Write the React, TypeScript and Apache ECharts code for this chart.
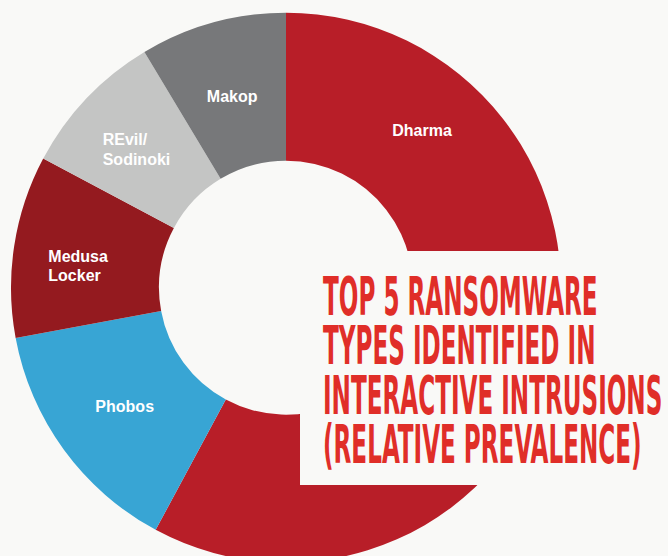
import React, { useEffect, useRef } from "react";
import * as echarts from "echarts";

const categories = ["Dharma", "Phobos", "Medusa Locker", "REvil/Sodinoki", "Makop"];
const shares = [57.8, 14.2, 10.7, 8.6, 8.6];
const labelTexts = ["Dharma", "Phobos", "Medusa\nLocker", "REvil/\nSodinoki", "Makop"];
const sliceColors = ["#B81E28", "#38A5D4", "#941A1F", "#C4C5C4", "#77787A"];
const titleLines = [
  "TOP 5 RANSOMWARE",
  "TYPES IDENTIFIED IN",
  "INTERACTIVE INTRUSIONS",
  "(RELATIVE PREVALENCE)",
];

const BG = "#F9F9F7";
const TITLE_RED = "#E02E28";

// label placement (layout, not data)
const labelPlacement: Record<string, { x: number; y: number; align: string }> = {
  Dharma: { x: 422, y: 130, align: "center" },
  Phobos: { x: 124.7, y: 406, align: "center" },
  "Medusa Locker": { x: 48.3, y: 266.2, align: "left" },
  "REvil/Sodinoki": { x: 102.7, y: 149.7, align: "left" },
  Makop: { x: 232.2, y: 96, align: "center" },
};

export default function App() {
  const ref = useRef<HTMLDivElement>(null);

  useEffect(() => {
    document.body.style.margin = "0";
    if (!ref.current) return;
    const chart = echarts.init(ref.current, null, { renderer: "svg" });

    const titleTop = 296.5;
    const titlePitch = 49.3;

    chart.setOption({
      animation: false,
      backgroundColor: BG,
      series: [
        {
          type: "pie",
          center: [286, 287.7],
          radius: [127, 275],
          startAngle: 90,
          clockwise: true,
          avoidLabelOverlap: false,
          silent: true,
          data: categories.map((name, i) => ({
            name,
            value: shares[i],
            itemStyle: { color: sliceColors[i] },
          })),
          label: {
            show: true,
            position: "inside",
            formatter: (p: any) => labelTexts[p.dataIndex],
            color: "#FFFFFF",
            fontFamily: "'Liberation Sans', Arial, sans-serif",
            fontWeight: "bold",
            fontSize: 16,
            lineHeight: 19.5,
          },
          labelLine: { show: false },
          labelLayout: (params: any) => {
            const name = categories[params.dataIndex];
            const pl = labelPlacement[name];
            return {
              x: pl.x,
              y: pl.y,
              align: pl.align,
              verticalAlign: "middle",
            };
          },
        },
      ],
      graphic: {
        elements: [
          {
            type: "rect",
            z: 100,
            shape: { x: 300, y: 251, width: 368, height: 234 },
            style: { fill: BG },
          },
          ...titleLines.map((line, i) => ({
            type: "text",
            z: 101,
            x: 323,
            y: titleTop + i * titlePitch,
            scaleX: 0.476,
            style: {
              text: line,
              x: 0,
              y: 0,
              fill: TITLE_RED,
              fontFamily: "'DejaVu Sans Condensed', sans-serif",
              fontWeight: "bold",
              fontSize: 54,
              align: "left",
              verticalAlign: "middle",
            },
          })),
        ],
      },
    });

    return () => chart.dispose();
  }, []);

  return (
    <div
      ref={ref}
      style={{ position: "absolute", left: 0, top: 0, width: 668, height: 556 }}
    />
  );
}
